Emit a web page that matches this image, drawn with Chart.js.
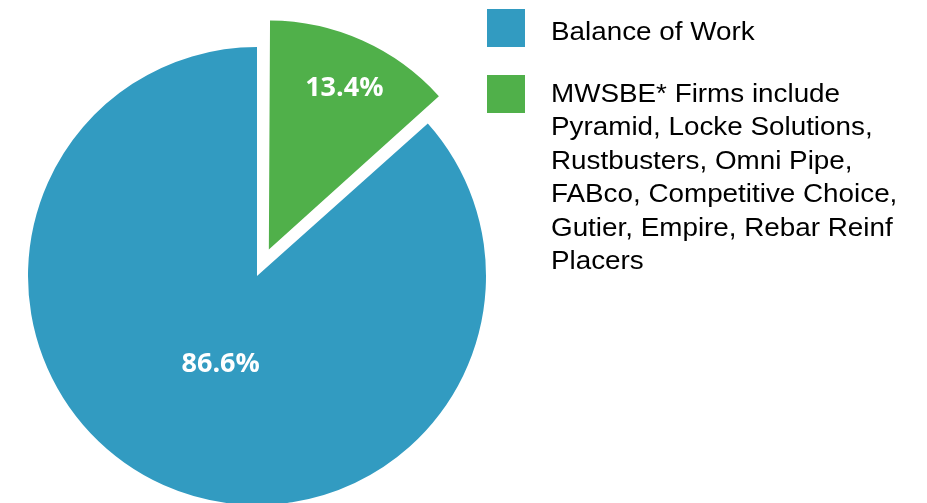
<!DOCTYPE html>
<html>
<head>
<meta charset="utf-8">
<script src="https://cdn.jsdelivr.net/npm/chart.js@4"></script>
<style>
  html, body { margin: 0; padding: 0; background: #fff; }
  #wrap { width: 927px; height: 503px; position: relative; }
</style>
</head>
<body>
<div id="wrap"><canvas id="pieChart"></canvas></div>
<script>
// Data
const categories = [
    ["Balance of Work"],
    ["MWSBE* Firms include", "Pyramid, Locke Solutions,", "Rustbusters, Omni Pipe,",
     "FABco, Competitive Choice,", "Gutier, Empire, Rebar Reinf", "Placers"]
];
const shares = [86.6, 13.4];
const pctLabels = ["86.6%", "13.4%"];
const colors = ["#329bc1", "#50b04a"];

const explode = 116;          // chart.js draws offset/4 px
const labelPos = [0.42, 0.8]; // fraction of radius for value labels

// Undo the small radius growth chart.js adds to exploded arcs
const radiusFix = {
    id: "radiusFix",
    afterDatasetsUpdate(chart) {
        chart.getDatasetMeta(0).data.forEach(arc => {
            const off = (arc.options.offset || 0) / 4;
            const fix = 1 - Math.sin(Math.min(Math.PI, arc.circumference));
            arc.outerRadius -= off * fix;
        });
    }
};

// Value labels inside slices
const valueLabels = {
    id: "valueLabels",
    afterDatasetsDraw(chart) {
        const ctx = chart.ctx;
        const meta = chart.getDatasetMeta(0);
        ctx.save();
        ctx.fillStyle = "#ffffff";
        ctx.font = "bold 27px 'Open Sans'";
        ctx.textAlign = "center";
        ctx.textBaseline = "middle";
        meta.data.forEach((arc, i) => {
            const mid = (arc.startAngle + arc.endAngle) / 2;
            const off = (arc.options.offset || 0) / 4;
            const d = off + labelPos[i] * arc.outerRadius;
            ctx.fillText(pctLabels[i], arc.x + Math.cos(mid) * d + 3, arc.y + Math.sin(mid) * d + 1);
        });
        ctx.restore();
    }
};

// Legend on the right with wrapped text
const sideLegend = {
    id: "sideLegend",
    afterDraw(chart) {
        const ctx = chart.ctx;
        const boxX = 487, box = 38, textX = 551, lineH = 33.4;
        const tops = [9, 75];
        const baselines = [40, 102];
        ctx.save();
        ctx.font = "26px 'Liberation Sans', Arial, sans-serif";
        ctx.textBaseline = "alphabetic";
        ctx.textAlign = "left";
        categories.forEach((lines, i) => {
            ctx.fillStyle = colors[i];
            ctx.fillRect(boxX, tops[i], box, box);
            ctx.fillStyle = "#000000";
            lines.forEach((line, j) => {
                ctx.save();
                ctx.translate(textX, baselines[i] + j * lineH);
                ctx.scale(1.07, 1);
                ctx.fillText(line, 0, 0);
                ctx.restore();
            });
        });
        ctx.restore();
    }
};

const ctx = document.getElementById("pieChart").getContext("2d");

const chart = new Chart(ctx, {
    type: "pie",
    data: {
        labels: categories.map(l => l.join(" ")),
        datasets: [{
            data: shares,
            backgroundColor: colors,
            borderWidth: 0,
            offset: [0, explode]
        }]
    },
    options: {
        responsive: true,
        maintainAspectRatio: false,
        animation: false,
        radius: 229,
        rotation: shares[1] / (shares[0] + shares[1]) * 360,
        layout: { padding: { left: 0, right: 413, top: 49, bottom: 0 } },
        plugins: {
            legend: { display: false },
            tooltip: { enabled: false }
        }
    },
    plugins: [radiusFix, valueLabels, sideLegend]
});
</script>
</body>
</html>
